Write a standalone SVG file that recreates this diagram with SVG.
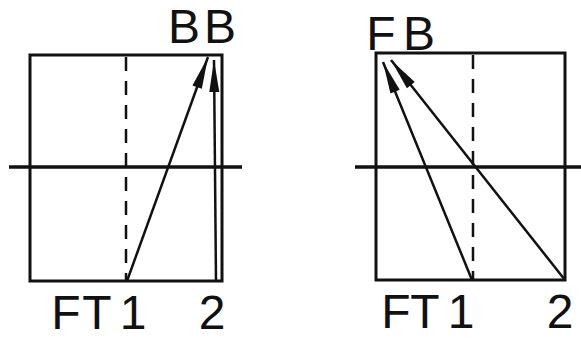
<svg xmlns="http://www.w3.org/2000/svg" width="581" height="338" viewBox="0 0 581 338">
<style>
.box{fill:none;stroke:#111;stroke-width:3}
.axis{stroke:#111;stroke-width:3.5}
.dash{stroke:#111;stroke-width:2.5;stroke-dasharray:14 10}
.arr{stroke:#111;stroke-width:2.5;fill:none;marker-end:url(#ah)}
.lbl{font-family:"Liberation Sans",Arial,sans-serif;font-size:48px;fill:#111;text-anchor:middle}
</style>
<defs>
<marker id="ah" markerUnits="userSpaceOnUse" markerWidth="40" markerHeight="14" viewBox="-34 -7 36 14" refX="0" refY="0" orient="auto">
<path d="M0,0 L-32,-5 L-32,5 Z" fill="#111"/>
</marker>
</defs>
<rect width="581" height="338" fill="#fff"/>
<g id="panel-left">
<rect class="box" x="30" y="55" width="192" height="226"/>
<line class="axis" x1="9" y1="167" x2="242" y2="167"/>
<line class="dash" x1="126" y1="57" x2="126" y2="280"/>
<text class="lbl" x="184 220" y="43">BB</text>
<text class="lbl" x="66 97" y="329">FT</text>
<text class="lbl" x="133" y="329">1</text>
<text class="lbl" x="212" y="329">2</text>
</g>
<g id="panel-right">
<rect class="box" x="376" y="53" width="189" height="227"/>
<line class="axis" x1="355" y1="167" x2="581" y2="167"/>
<line class="dash" x1="473" y1="55" x2="473" y2="279"/>
<text class="lbl" x="381 419" y="50">FB</text>
<text class="lbl" x="396 425" y="328">FT</text>
<text class="lbl" x="461" y="328">1</text>
<text class="lbl" x="560" y="328">2</text>
</g>
<g id="connectors">
<line class="arr" x1="127" y1="281" x2="208" y2="57"/>
<line class="arr" x1="216" y1="281" x2="214" y2="60"/>
<line class="arr" x1="472" y1="280" x2="383" y2="62"/>
<line class="arr" x1="565" y1="280" x2="391" y2="60"/>
</g>
</svg>
